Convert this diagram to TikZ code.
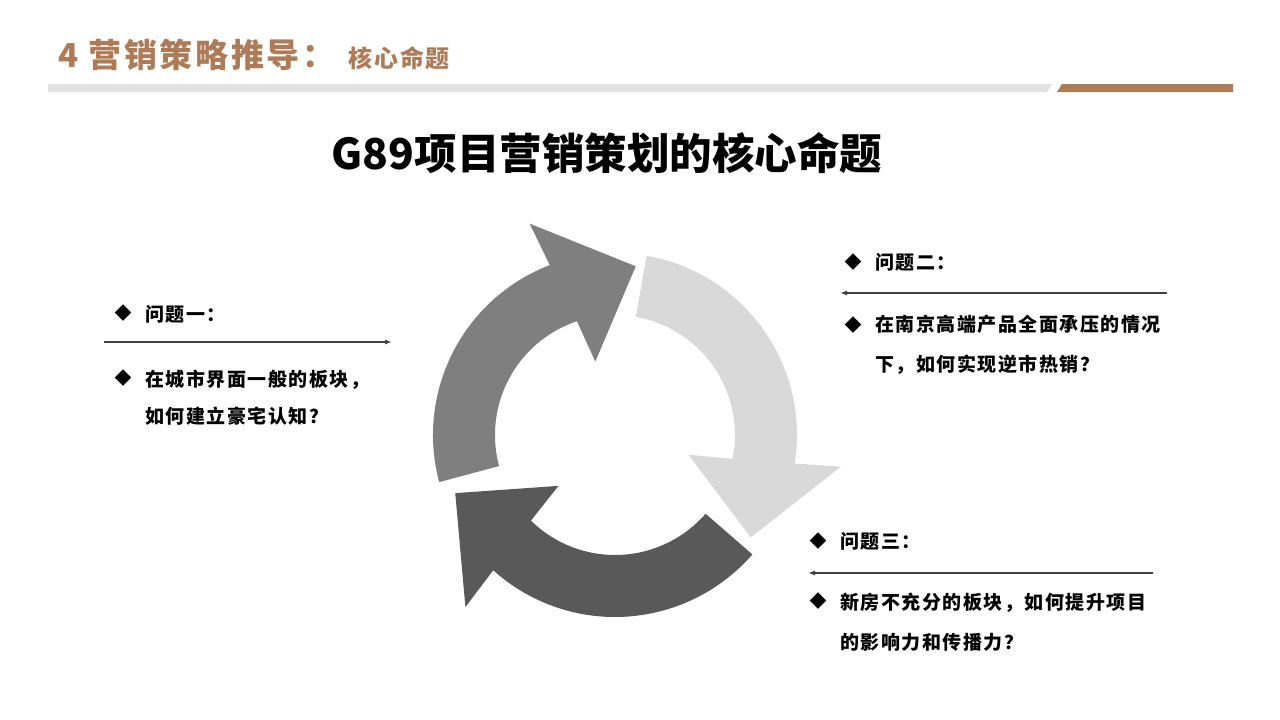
\documentclass[tikz,border=0pt]{standalone}
\usepackage{fontspec}
\usepackage{tikz}
\usetikzlibrary{arrows.meta,positioning,calc}
\newfontfamily\cjk{Noto Sans CJK SC}
\newfontfamily\qfont[LetterSpace=8]{Noto Sans CJK SC}
\newfontfamily\hdrfont[LetterSpace=8]{Noto Sans CJK SC}
\definecolor{hdrbrown}{RGB}{174,123,89}
\definecolor{barGray}{RGB}{226,226,226}
\definecolor{ringMid}{RGB}{127,127,127}
\definecolor{ringLight}{RGB}{217,217,217}
\definecolor{ringDark}{RGB}{89,89,89}
\definecolor{lineGray}{RGB}{64,64,64}
\tikzset{
  hdrtxt/.style={anchor=west, text=hdrbrown, inner sep=0pt},
  qhead/.style={anchor=west, inner sep=0pt, font=\qfont\bfseries\fontsize{19}{19}\selectfont},
  qbody/.style={anchor=west, inner sep=0pt, align=left,
    font=\qfont\bfseries\fontsize{19}{#1}\selectfont},
  qbody/.default=40,
  bulletmk/.style={inner sep=0pt, font=\cjk\fontsize{17}{17}\selectfont},
  qline/.style={-{Latex[length=7pt,width=5pt]}, line width=1.5pt, lineGray},
}
% one arrow of the ring: colour, tail angle, tip angle
\newcommand{\ringarrow}[3]{%
  \fill[#1] (#2:182pt) arc[start angle=#2, end angle=#3+28, radius=182pt]
    -- (#3+29:228pt) -- (#3:170pt) -- (#3+22:76pt) -- (#3+25.5:120pt)
    arc[start angle=#3+25.5, end angle=#2, radius=120pt] -- cycle;
}
\begin{document}
\begin{tikzpicture}[x=1pt, y=1pt]
  \useasboundingbox (0,0) rectangle (1280,-720);
  \fill[white] (0,0) rectangle (1280,-720);
  % header
  \node[hdrtxt, font=\hdrfont\bfseries\fontsize{33}{33}\selectfont] (hdrmain) at (58,-55) {4 营销策略推导：};
  \node[hdrtxt, font=\hdrfont\bfseries\fontsize{24}{24}\selectfont] (hdrsub) at (348,-58) {核心命题};
  \fill[barGray] (48,-84) -- (1052,-84) -- (1047,-92) -- (48,-92) -- cycle;
  \fill[hdrbrown] (1062,-84) -- (1233,-84) -- (1233,-92) -- (1057,-92) -- cycle;
  % title
  \node[font=\cjk\bfseries\fontsize{42.5}{42.5}\selectfont] (title) at (607,-153) {G89项目营销策划的核心命题};
  % ring of arrows
  \begin{scope}[shift={(615,-435)}]
    \ringarrow{ringMid}{195}{83}
    \ringarrow{ringLight}{80}{-37}
    \ringarrow{ringDark}{319}{200}
  \end{scope}
  % question one
  \node[bulletmk] (b1a) at (123,-313) {◆};
  \node[qhead] (q1) at (145,-314) {问题一：};
  \coordinate (l1s) at (104,-342);
  \coordinate (l1e) at (392,-342);
  \draw[qline] (l1s) -- (l1e);
  \node[bulletmk] (b1b) at (123,-378) {◆};
  \node[qbody=37] (t1) at (145,-398) {在城市界面一般的板块，\\如何建立豪宅认知？};
  % question two
  \node[bulletmk] (b2a) at (853,-262) {◆};
  \node[qhead] (q2) at (875,-262) {问题二：};
  \coordinate (l2s) at (1167,-293);
  \coordinate (l2e) at (840,-293);
  \draw[qline] (l2s) -- (l2e);
  \node[bulletmk] (b2b) at (853,-325) {◆};
  \node[qbody] (t2) at (875,-345) {在南京高端产品全面承压的情况\\下，如何实现逆市热销？};
  % question three
  \node[bulletmk] (b3a) at (818,-541) {◆};
  \node[qhead] (q3) at (840,-541) {问题三：};
  \coordinate (l3s) at (1153,-573);
  \coordinate (l3e) at (808,-573);
  \draw[qline] (l3s) -- (l3e);
  \node[bulletmk] (b3b) at (818,-601) {◆};
  \node[qbody] (t3) at (840,-622) {新房不充分的板块，如何提升项目\\的影响力和传播力？};
\end{tikzpicture}
\end{document}
